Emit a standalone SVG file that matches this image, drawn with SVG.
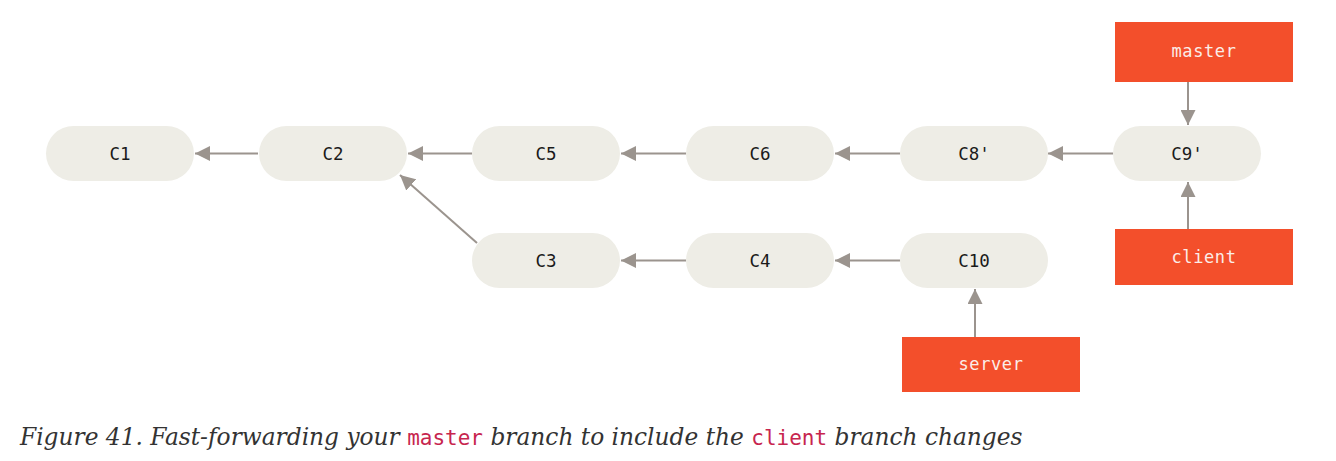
<svg xmlns="http://www.w3.org/2000/svg" width="1336" height="461" viewBox="0 0 1336 461">
<defs>
<style>
.pill{fill:#EEEDE6;}
.pt{font-family:"DejaVu Sans Mono","Liberation Mono",monospace;font-size:17.5px;fill:#1a1a1a;text-anchor:middle;}
.br{fill:#F34F2B;}
.bt{font-family:"DejaVu Sans Mono","Liberation Mono",monospace;font-size:17px;fill:#FBEDE8;text-anchor:middle;letter-spacing:0.6px;}
.ln{stroke:#9B948E;stroke-width:2;fill:none;marker-end:url(#ah);}
.cap{font-family:"DejaVu Serif","Liberation Serif",serif;font-style:italic;font-size:23.3px;fill:#333;}
.code{font-family:"DejaVu Sans Mono","Liberation Mono",monospace;font-style:normal;fill:#C7254E;font-size:21px;}
</style>
<marker id="ah" markerWidth="15" markerHeight="15" refX="15" refY="7.5" orient="auto" markerUnits="userSpaceOnUse">
<path d="M0,0 L15,7.5 L0,15 z" fill="#9B948E"/>
</marker>
</defs>
<g id="connectors">
<line class="ln" x1="258" y1="153.5" x2="195" y2="153.5"/>
<line class="ln" x1="472" y1="153.5" x2="408" y2="153.5"/>
<line class="ln" x1="686" y1="153.5" x2="621" y2="153.5"/>
<line class="ln" x1="900" y1="153.5" x2="835" y2="153.5"/>
<line class="ln" x1="1113" y1="153.5" x2="1048" y2="153.5"/>
<line class="ln" x1="477" y1="243" x2="400" y2="175"/>
<line class="ln" x1="686" y1="260.5" x2="621" y2="260.5"/>
<line class="ln" x1="900" y1="260.5" x2="835" y2="260.5"/>
<line class="ln" x1="1188" y1="82" x2="1188" y2="125"/>
<line class="ln" x1="1188" y1="229" x2="1188" y2="182"/>
<line class="ln" x1="975" y1="337" x2="975" y2="289"/>
</g>
<g id="C1"><rect class="pill" x="46" y="126" width="148" height="55" rx="27.5"/><text class="pt" x="120" y="159.5">C1</text></g>
<g id="C2"><rect class="pill" x="259" y="126" width="148" height="55" rx="27.5"/><text class="pt" x="333" y="159.5">C2</text></g>
<g id="C5"><rect class="pill" x="472" y="126" width="148" height="55" rx="27.5"/><text class="pt" x="546" y="159.5">C5</text></g>
<g id="C6"><rect class="pill" x="686" y="126" width="148" height="55" rx="27.5"/><text class="pt" x="760" y="159.5">C6</text></g>
<g id="C8p"><rect class="pill" x="900" y="126" width="148" height="55" rx="27.5"/><text class="pt" x="974" y="159.5">C8'</text></g>
<g id="C9p"><rect class="pill" x="1113" y="126" width="148" height="55" rx="27.5"/><text class="pt" x="1187" y="159.5">C9'</text></g>
<g id="C3"><rect class="pill" x="472" y="233" width="148" height="55" rx="27.5"/><text class="pt" x="546" y="266.5">C3</text></g>
<g id="C4"><rect class="pill" x="686" y="233" width="148" height="55" rx="27.5"/><text class="pt" x="760" y="266.5">C4</text></g>
<g id="C10"><rect class="pill" x="900" y="233" width="148" height="55" rx="27.5"/><text class="pt" x="974" y="266.5">C10</text></g>
<g id="master"><rect class="br" x="1115" y="22" width="178" height="60"/><text class="bt" x="1204" y="57">master</text></g>
<g id="client"><rect class="br" x="1115" y="229" width="178" height="56"/><text class="bt" x="1204" y="263">client</text></g>
<g id="server"><rect class="br" x="902" y="337" width="178" height="55"/><text class="bt" x="991" y="370">server</text></g>
<g id="caption"><text class="cap" x="20" y="445">Figure 41. Fast-forwarding your <tspan class="code">master</tspan> branch to include the <tspan class="code">client</tspan> branch changes</text></g>
</svg>
